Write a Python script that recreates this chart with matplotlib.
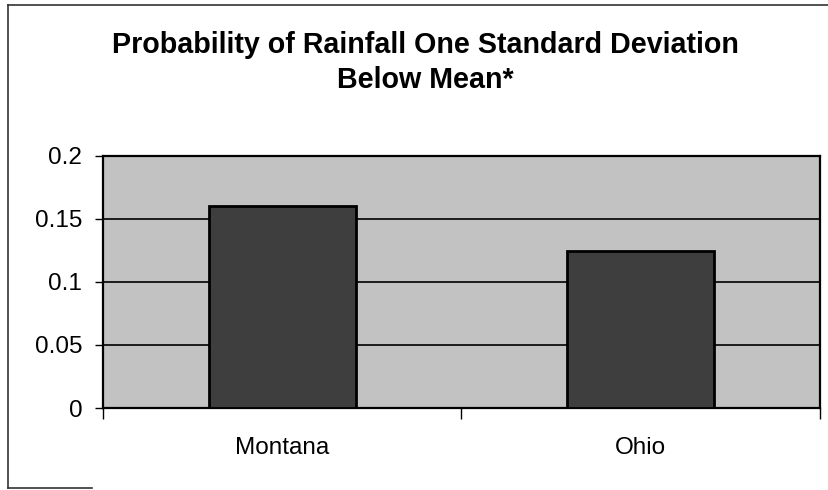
import matplotlib
matplotlib.use("Agg")
import matplotlib.pyplot as plt
from matplotlib.lines import Line2D

# Chart data
states = ["Montana", "Ohio"]
probabilities = [0.16, 0.124]
y_ticks = [0, 0.05, 0.1, 0.15, 0.2]
y_tick_labels = ["0", "0.05", "0.1", "0.15", "0.2"]
title_text = "Probability of Rainfall One Standard Deviation\nBelow Mean*"

plt.rcParams["font.family"] = ["Liberation Sans", "DejaVu Sans"]

W, H = 829, 490
fig = plt.figure(figsize=(W / 100, H / 100), dpi=100)
fig.patch.set_facecolor("white")

ax = fig.add_axes([103 / W, 1 - 408 / H, (820 - 103) / W, (408 - 155.5) / H])
ax.set_facecolor("#c2c2c2")

positions = list(range(len(states)))
ax.bar(positions, probabilities, width=0.41, color="#3e3e3e",
       edgecolor="black", linewidth=2, zorder=3)

ax.set_xlim(-0.5, len(states) - 0.5)
ax.set_ylim(0, 0.2)

ax.set_yticks(y_ticks)
ax.set_yticklabels(y_tick_labels)
ax.yaxis.grid(True, color="black", linewidth=1.2, zorder=1)
ax.set_axisbelow(True)

# Category boundaries carry the tick marks; labels sit at the bar centres
ax.set_xticks([p - 0.5 for p in positions] + [positions[-1] + 0.5])
ax.set_xticklabels([])
ax.set_xticks(positions, minor=True)
ax.set_xticklabels(states, minor=True)
ax.tick_params(axis="x", which="major", direction="out", length=8, width=1, color="black")
ax.tick_params(axis="x", which="minor", length=0, pad=21, labelsize=17.5)
ax.tick_params(axis="y", direction="out", length=6, width=1, pad=9, labelsize=17.5)

for side in ["top", "right", "bottom", "left"]:
    ax.spines[side].set_color("black")
    ax.spines[side].set_linewidth(1.6)

fig.text(425 / W, 1 - 88 / H, title_text, ha="center", va="baseline",
         fontsize=20.6, fontweight="bold", linespacing=1.3)

# Outer chart frame
frame_kw = dict(color="#333333", linewidth=1.2, transform=fig.transFigure)
fig.add_artist(Line2D([8 / W, 1.0], [1 - 5 / H, 1 - 5 / H], **frame_kw))
fig.add_artist(Line2D([8 / W, 8 / W], [1 - 5 / H, 1 - 488 / H], **frame_kw))
fig.add_artist(Line2D([8 / W, 92 / W], [1 - 488 / H, 1 - 488 / H], **frame_kw))

fig.savefig("out.png", dpi=100)
